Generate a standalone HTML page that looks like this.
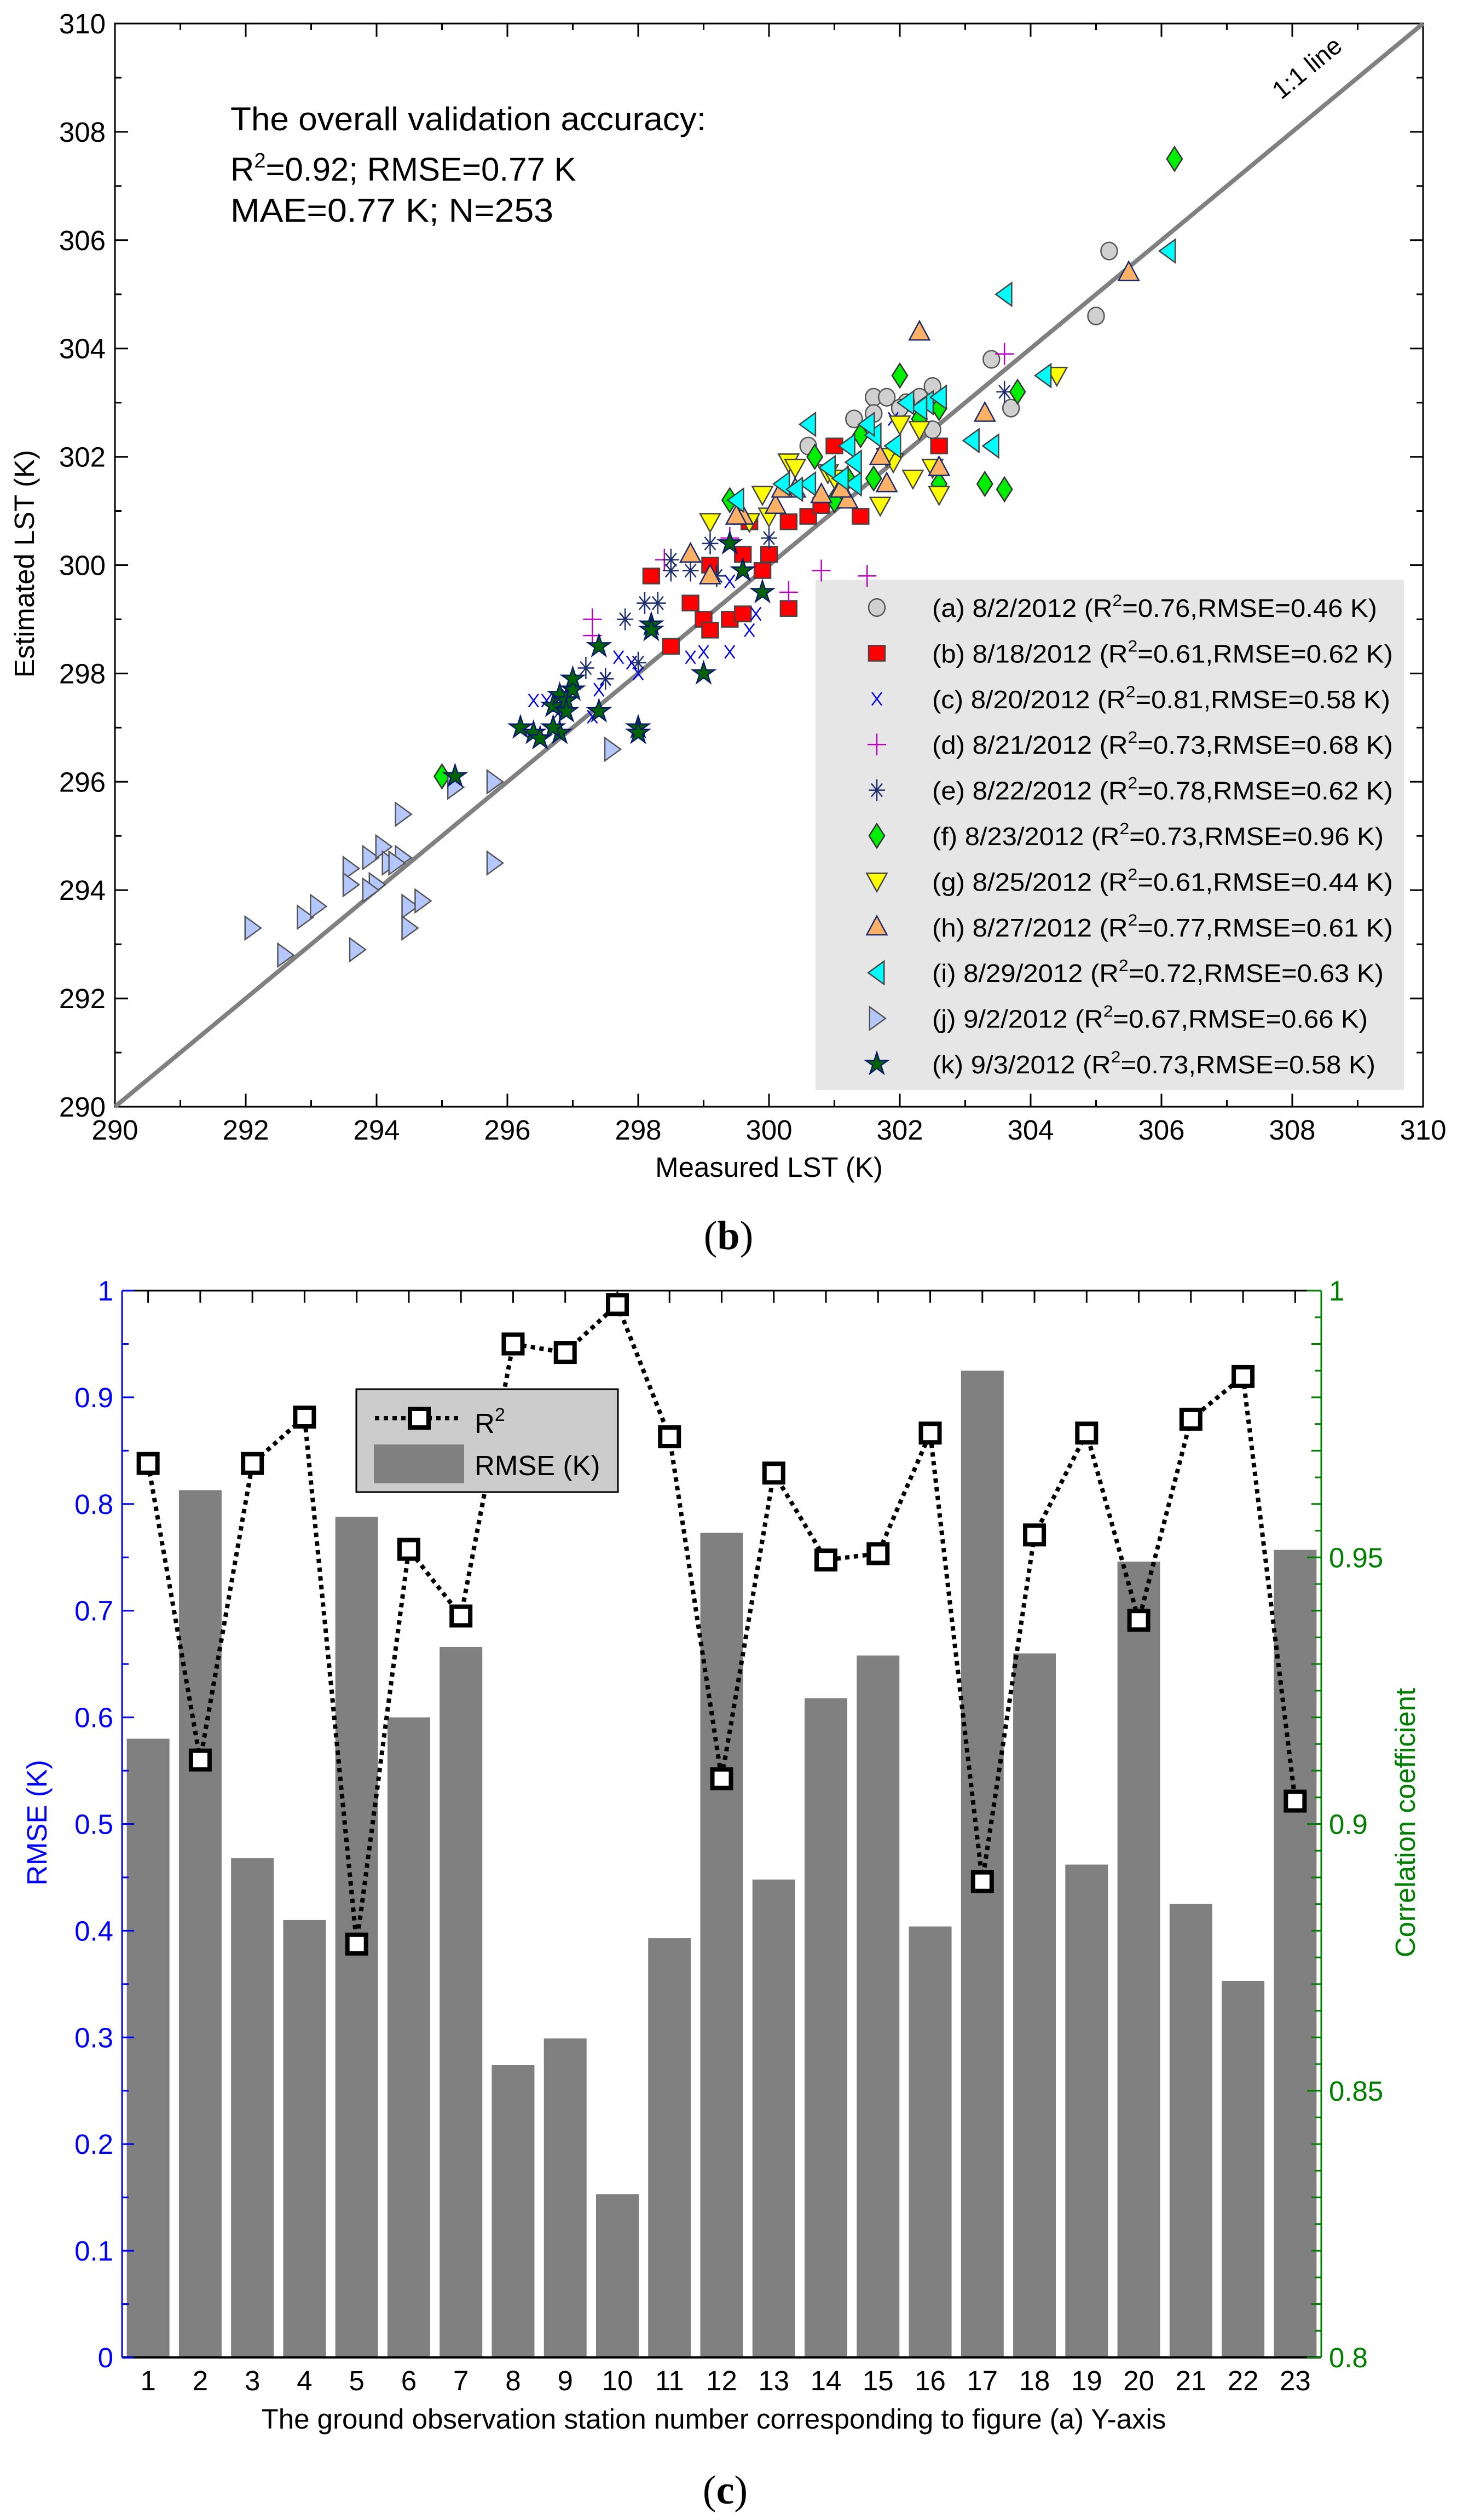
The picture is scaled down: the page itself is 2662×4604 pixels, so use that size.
<!DOCTYPE html>
<html><head><meta charset="utf-8"><style>
html,body{margin:0;padding:0;background:#fff;}
svg{display:block;font-family:"Liberation Sans",Arial,sans-serif;}
</style></head><body>
<svg id="fig" xmlns="http://www.w3.org/2000/svg" width="2662" height="4604" viewBox="0 0 2662 4604">
<g id="chartB"></g>
<g id="chartC"></g>
</svg>
<script>
// ===== Chart (b) data =====
const sA=[[305.2,305.8],[305,304.6],[303.4,303.8],[303.7,302.9],[302.5,303.3],[302.3,303.1],[302.1,303.0],[301.6,303.1],[301.8,303.1],[301.3,302.7],[302.5,302.5],[302,302.9],[300.6,302.2],[301.6,302.8]];
const sB=[[302.6,302.2],[301,302.2],[301.4,300.9],[300.3,300.8],[300.6,300.9],[299.7,300.8],[299.1,300],[299.6,300.2],[300,300.2],[298.2,299.8],[298.8,299.3],[299,299],[299.1,298.8],[299.4,299],[299.6,299.1],[300.3,299.2],[299.9,299.9],[298.5,298.5],[300.8,301.1]];
const sC=[[296.4,297.5],[296.6,297.5],[296.9,297.6],[297.5,297.9],[297.7,298.3],[297.9,298.2],[298.8,298.3],[299,298.4],[299.4,298.4],[299.7,298.8],[299.8,299.1],[299.4,299.7],[301.9,302.7],[298,298],[297.4,297.7],[297.3,297.2]];
const sD=[[297.3,299],[297.3,298.7],[300.8,299.9],[301.5,299.8],[300.3,299.5],[303.6,303.9],[299.4,300.5],[298.4,300.1]];
const sE=[[297.8,299],[298.1,299.3],[298.3,299.3],[298.5,299.9],[298.8,299.9],[298.5,300.1],[299.1,300.4],[297.2,298.1],[297.5,297.9],[298,298.2],[299.2,299.8],[302.5,303],[303.6,303.2],[296.8,297.3],[300,300.5]];
const sF=[[306.2,307.5],[303.8,303.2],[302,303.5],[302.3,302.7],[302.6,302.9],[303.3,301.5],[303.6,301.4],[302.6,301.5],[301.4,302.4],[300.7,302],[301.6,301.6],[301,301.2],[299.4,301.2],[295,296.1],[301.2,301.6]];
const sG=[[304.4,303.5],[302,302.6],[302.3,302.5],[302.5,301.8],[302.6,301.3],[301.7,301.1],[302.2,301.6],[301.9,301.9],[300.3,301.9],[300.4,301.8],[300.9,301.7],[299.9,301.3],[300,300.9],[299.1,300.8],[299.7,300.8],[301,301.6],[301.8,302]];
const sH=[[305.5,305.4],[302.3,304.3],[303.3,302.8],[302.6,301.8],[301.8,301.5],[301.7,302],[300.8,301.3],[301.2,301.2],[300.4,301.4],[299.6,300.9],[300.1,301.1],[298.8,300.2],[299.1,299.8],[299.5,300.9],[301.1,301.4],[300.2,301.4]];
const sI=[[306.1,305.8],[303.6,305],[304.2,303.5],[302.4,303],[302.6,303.1],[302.3,302.9],[303.1,302.3],[303.4,302.2],[300.6,302.6],[301.6,302.4],[301.2,302.2],[301.3,301.9],[301.5,302.6],[300.2,301.5],[300.6,301.5],[301.3,301.5],[300.9,301.8],[299.5,301.2],[300.4,301.4],[301.9,302.2],[301.1,301.6],[302.1,303]];
const sJ=[[292.1,293.3],[292.6,292.8],[292.9,293.5],[293.1,293.7],[293.6,294.4],[293.6,294.1],[293.9,294.6],[294,294.1],[294.1,294.8],[294.2,294.5],[294.4,294.6],[294.4,295.4],[294.5,293.7],[294.5,293.3],[294.7,293.8],[293.7,292.9],[295.2,295.9],[295.8,296],[295.8,294.5],[297.6,296.6],[293.9,294],[294.3,294.5]];
const sK=[[295.2,296.1],[296.2,297],[296.4,296.9],[296.5,296.8],[296.7,297.4],[296.8,297.6],[296.9,297.5],[297,297.7],[297,297.9],[296.9,297.3],[296.8,296.9],[297.4,298.5],[297.4,297.3],[298,297],[298,296.9],[298.2,298.9],[298.2,298.8],[299,298],[299.4,300.4],[299.6,299.9],[299.9,299.5],[296.7,297]];
const bTicks=[290,292,294,296,298,300,302,304,306,308,310];
const legendDates=["(a) 8/2/2012","(b) 8/18/2012","(c) 8/20/2012","(d) 8/21/2012","(e) 8/22/2012","(f) 8/23/2012","(g) 8/25/2012","(h) 8/27/2012","(i) 8/29/2012","(j) 9/2/2012","(k) 9/3/2012"];
const legendR2=["0.76","0.61","0.81","0.73","0.78","0.73","0.61","0.77","0.72","0.67","0.73"];
const legendRMSE=["0.46","0.62","0.58","0.68","0.62","0.96","0.44","0.61","0.63","0.66","0.58"];

// ===== Chart (c) data =====
const stations=["1","2","3","4","5","6","7","8","9","10","11","12","13","14","15","16","17","18","19","20","21","22","23"];
const rmseVals=[0.58,0.813,0.468,0.41,0.788,0.6,0.666,0.274,0.299,0.153,0.393,0.773,0.448,0.618,0.658,0.404,0.925,0.66,0.462,0.746,0.425,0.353,0.757];
const r2Vals=[0.9676,0.912,0.9676,0.9763,0.8775,0.9515,0.939,0.990,0.9884,0.9974,0.9726,0.9085,0.9658,0.9495,0.9507,0.9733,0.8892,0.9542,0.9733,0.9382,0.9759,0.9839,0.9043];
const leftTicks=["0","0.1","0.2","0.3","0.4","0.5","0.6","0.7","0.8","0.9","1"];
const rightTicks=["0.8","0.85","0.9","0.95","1"];

const NS="http://www.w3.org/2000/svg";
function mk(parent,tag,attrs,text){const e=document.createElementNS(NS,tag);for(const k in attrs)e.setAttribute(k,attrs[k]);if(text!==undefined)e.textContent=text;parent.appendChild(e);return e;}

// ---------- Chart B ----------
const gB=document.getElementById('chartB');
const L=210,R=2600,T=43,B=2022;
const xB=v=>L+(v-290)/20*(R-L);
const yB=v=>B-(v-290)/20*(B-T);
let fr=mk(gB,'rect',{x:L,y:T,width:R-L,height:B-T,fill:'none',stroke:'#000','stroke-width':3});


for(let v=290;v<=310;v++){
  const len=(v%2===0)?24:12;
  mk(gB,'line',{x1:xB(v),y1:B,x2:xB(v),y2:B-len,stroke:'#000','stroke-width':3});
  mk(gB,'line',{x1:xB(v),y1:T,x2:xB(v),y2:T+len,stroke:'#000','stroke-width':3});
  mk(gB,'line',{x1:L,y1:yB(v),x2:L+len,y2:yB(v),stroke:'#000','stroke-width':3});
  mk(gB,'line',{x1:R,y1:yB(v),x2:R-len,y2:yB(v),stroke:'#000','stroke-width':3});
}
bTicks.forEach(v=>{
  let t=mk(gB,'text',{x:xB(v),y:2082,'font-size':51,'text-anchor':'middle'},String(v));
  
  
  let t2=mk(gB,'text',{x:193,y:yB(v)+18,'font-size':51,'text-anchor':'end'},String(v));
  
  
});
let xt=mk(gB,'text',{x:1405,y:2150,'font-size':51,'text-anchor':'middle'},'Measured LST (K)');


let yt=mk(gB,'text',{x:0,y:0,'font-size':51,'text-anchor':'middle',transform:'translate(62,1030) rotate(-90)'},'Estimated LST (K)');


const ann=mk(gB,'g',{});


mk(ann,'text',{x:421,y:238,'font-size':60,textLength:869,lengthAdjust:'spacingAndGlyphs'},'The overall validation accuracy:');
const a2=mk(ann,'text',{x:421,y:330,'font-size':60});
a2.innerHTML='R<tspan dy="-24" font-size="38">2</tspan><tspan dy="24">=0.92; RMSE=0.77 K</tspan>';
mk(ann,'text',{x:421,y:405,'font-size':60,textLength:590,lengthAdjust:'spacingAndGlyphs'},'MAE=0.77 K; N=253');

const lg=mk(gB,'g',{});


mk(lg,'rect',{x:1490,y:1059,width:1075,height:932,fill:'#e6e6e6'});

function marker(g,type,cx,cy){
  const k=0.88;let e;
  const P=(a)=>a.map(v=>v*k);
  switch(type){
    case 'circle': e=mk(g,'ellipse',{cx,cy,rx:17*k,ry:18*k,fill:'#d0d0d0',stroke:'#555','stroke-width':2.5});break;
    case 'square': e=mk(g,'rect',{x:cx-17*k,y:cy-16*k,width:34*k,height:32*k,fill:'#ff0000',stroke:'#444','stroke-width':2.5});break;
    case 'x': e=mk(g,'path',{d:`M${cx-9},${cy-12}L${cx+9},${cy+12}M${cx+9},${cy-12}L${cx-9},${cy+12}`,stroke:'#0000ee','stroke-width':2.5,fill:'none'});break;
    case 'plus': e=mk(g,'path',{d:`M${cx-17},${cy}L${cx+17},${cy}M${cx},${cy-20}L${cx},${cy+20}`,stroke:'#c000c0','stroke-width':2.5,fill:'none'});break;
    case 'ast': e=mk(g,'path',{d:`M${cx-15},${cy}L${cx+15},${cy}M${cx},${cy-20}L${cx},${cy+20}M${cx-10},${cy-12}L${cx+10},${cy+12}M${cx+10},${cy-12}L${cx-10},${cy+12}`,stroke:'#1f2f6f','stroke-width':2.5,fill:'none'});break;
    case 'diamond': e=mk(g,'path',{d:`M${cx},${cy-25*k}L${cx+16*k},${cy}L${cx},${cy+25*k}L${cx-16*k},${cy}Z`,fill:'#00ee00',stroke:'#333','stroke-width':2.5});break;
    case 'down': e=mk(g,'path',{d:`M${cx-21*k},${cy-17*k}L${cx+21*k},${cy-17*k}L${cx},${cy+21*k}Z`,fill:'#ffff00',stroke:'#444','stroke-width':2.5});break;
    case 'up': e=mk(g,'path',{d:`M${cx},${cy-23*k}L${cx+21*k},${cy+16*k}L${cx-21*k},${cy+16*k}Z`,fill:'#ffb266',stroke:'#1a2a6a','stroke-width':2.5});break;
    case 'left': e=mk(g,'path',{d:`M${cx-18*k},${cy}L${cx+15*k},${cy-24*k}L${cx+15*k},${cy+24*k}Z`,fill:'#00ffff',stroke:'#444','stroke-width':2.5});break;
    case 'right': e=mk(g,'path',{d:`M${cx+18*k},${cy}L${cx-15*k},${cy-24*k}L${cx-15*k},${cy+24*k}Z`,fill:'#b4c8ff',stroke:'#555','stroke-width':2.5});break;
    case 'star': {let d='';for(let i=0;i<10;i++){const r=(i%2?9:24)*k;const a=-Math.PI/2+i*Math.PI/5;d+=(i?'L':'M')+(cx+r*Math.cos(a)).toFixed(1)+','+(cy+r*Math.sin(a)).toFixed(1);}
      e=mk(g,'path',{d:d+'Z',fill:'#006400',stroke:'#0a1a6a','stroke-width':2.5});break;}
  }
  return e;
}
const seriesList=[[sA,'circle'],[sB,'square'],[sC,'x'],[sD,'plus'],[sE,'ast'],[sF,'diamond'],[sG,'down'],[sH,'up'],[sI,'left'],[sJ,'right'],[sK,'star']];
const seriesNames=['a','b','c','d','e','f','g','h','i','j','k'];
const legendW=[813,842,837,842,842,825,842,842,825,796,810];

const oneLine=mk(gB,'line',{x1:xB(290),y1:yB(290),x2:xB(310),y2:yB(310),stroke:'#808080','stroke-width':8});


const ang=Math.atan2(yB(310)-yB(290),xB(310)-xB(290))*180/Math.PI;
let ol=mk(gB,'text',{x:0,y:0,'font-size':46,'text-anchor':'middle',transform:`translate(2398,136) rotate(${ang})`},'1:1 line');



seriesList.forEach(([pts,type],si)=>{
  const g=mk(gB,'g',{});
  
  
  pts.forEach(p=>{
    const m=marker(g,type,xB(p[0]),yB(p[1]));
    
    
  });
  const cy=1110+si*83.4;
  const le=mk(lg,'g',{});
  
  
  marker(le,type,1602,cy);
  const t=mk(le,'text',{x:1703,y:cy+17,'font-size':46,textLength:legendW[si],lengthAdjust:'spacingAndGlyphs'});
  t.innerHTML=legendDates[si]+' (R<tspan dy="-20" font-size="30">2</tspan><tspan dy="20">=' + legendR2[si] + ',RMSE=' + legendRMSE[si] + ' K)</tspan>';
});

let capB=mk(gB,'text',{x:1331,y:2282,'font-size':74,'text-anchor':'middle','font-family':'Liberation Serif, serif'});
capB.innerHTML='(<tspan font-weight="bold">b</tspan>)';



// ---------- Chart C ----------
const gC=document.getElementById('chartC');
const CL=223,CR=2414,CT=2358,CB=4307;
const bw=(CR-CL)/stations.length;
const xc=i=>CL+(i+0.5)*bw;
const yL=v=>CB-v*(CB-CT);
const yR=v=>CB-(v-0.8)/0.2*(CB-CT);
rmseVals.forEach((v,i)=>{
  const r=mk(gC,'rect',{x:xc(i)-39,y:yL(v),width:78,height:CB-yL(v),fill:'#808080'});
  
  
});
mk(gC,'line',{x1:CL,y1:CT,x2:CR,y2:CT,stroke:'#000','stroke-width':3});
mk(gC,'line',{x1:CL,y1:CB,x2:CR,y2:CB,stroke:'#000','stroke-width':4});
mk(gC,'line',{x1:CL,y1:CT,x2:CL,y2:CB,stroke:'#0000ff','stroke-width':3});
mk(gC,'line',{x1:CR,y1:CT,x2:CR,y2:CB,stroke:'#008000','stroke-width':3});
stations.forEach((s,i)=>{
  mk(gC,'line',{x1:xc(i),y1:CT,x2:xc(i),y2:CT+22,stroke:'#000','stroke-width':3});
  const t=mk(gC,'text',{x:xc(i),y:4367,'font-size':51,'text-anchor':'middle'},s);
  
  
});
for(let k=0;k<=20;k++){
  const v=k*0.05;const len=k%2===0?22:12;
  mk(gC,'line',{x1:CL,y1:yL(v),x2:CL+len,y2:yL(v),stroke:'#0000ff','stroke-width':3});
}
leftTicks.forEach(s=>{
  const t=mk(gC,'text',{x:207,y:yL(parseFloat(s))+18,'font-size':51,'text-anchor':'end',fill:'#0000ff'},s);
  
  
});
for(let k=0;k<=40;k++){
  const v=0.8+k*0.005;const len=k%10===0?26:k%2===0?18:12;
  mk(gC,'line',{x1:CR,y1:yR(v),x2:CR-len,y2:yR(v),stroke:'#008000','stroke-width':3});
}
rightTicks.forEach(s=>{
  const t=mk(gC,'text',{x:2428,y:yR(parseFloat(s))+18,'font-size':51,fill:'#008000'},s);
  
  
});
let lt=mk(gC,'text',{x:0,y:0,'font-size':51,'text-anchor':'middle',fill:'#0000ff',transform:'translate(85,3330) rotate(-90)'},'RMSE (K)');


let rt=mk(gC,'text',{x:0,y:0,'font-size':51,'text-anchor':'middle',fill:'#008000',transform:'translate(2585,3330) rotate(-90)'},'Correlation coefficient');


let xtc=mk(gC,'text',{x:1304,y:4437,'font-size':51,'text-anchor':'middle'},'The ground observation station number corresponding to figure (a) Y-axis');


let d='';r2Vals.forEach((v,i)=>{d+=(i?'L':'M')+xc(i).toFixed(1)+','+yR(v).toFixed(1);});
const ln=mk(gC,'path',{d,fill:'none',stroke:'#000','stroke-width':8,'stroke-dasharray':'8 8'});


r2Vals.forEach((v,i)=>{
  const m=mk(gC,'rect',{x:xc(i)-17,y:yR(v)-17,width:34,height:34,fill:'#fff',stroke:'#000','stroke-width':8});
  
  
});
const lc=mk(gC,'g',{});


mk(lc,'rect',{x:651,y:2538,width:478,height:188,fill:'#cccccc',stroke:'#000','stroke-width':3});
mk(lc,'line',{x1:685,y1:2591,x2:839,y2:2591,stroke:'#000','stroke-width':8,'stroke-dasharray':'8 8'});
mk(lc,'rect',{x:749,y:2574,width:34,height:34,fill:'#fff',stroke:'#000','stroke-width':8});
const lr2=mk(lc,'text',{x:867,y:2618,'font-size':51});
lr2.innerHTML='R<tspan dy="-22" font-size="34">2</tspan>';
mk(lc,'rect',{x:683,y:2639,width:165,height:71,fill:'#808080'});
mk(lc,'text',{x:867,y:2695,'font-size':51},'RMSE (K)');

let capC=mk(gC,'text',{x:1325,y:4574,'font-size':74,'text-anchor':'middle','font-family':'Liberation Serif, serif'});
capC.innerHTML='(<tspan font-weight="bold">c</tspan>)';


</script>
</body></html>
